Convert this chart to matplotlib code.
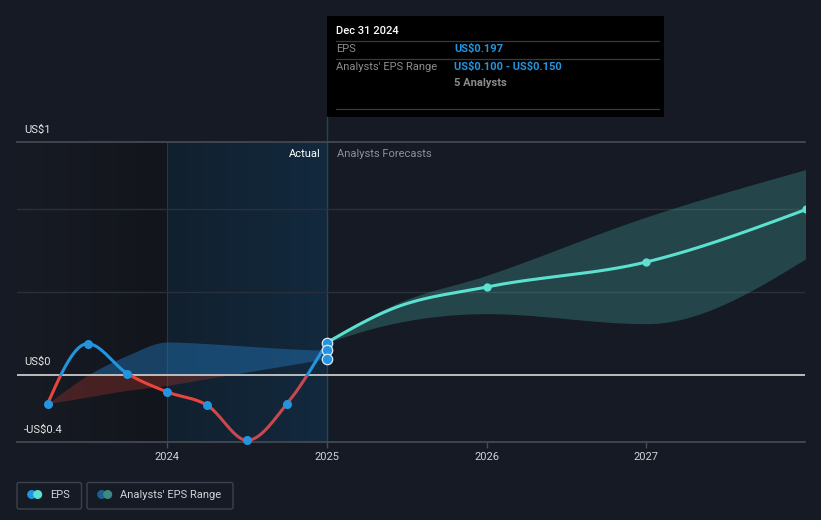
import numpy as np
import matplotlib
matplotlib.use('Agg')
import matplotlib.pyplot as plt
from matplotlib.patches import Rectangle, FancyBboxPatch, Circle
from matplotlib.colors import LinearSegmentedColormap

plt.rcParams['font.family'] = ['Roboto', 'DejaVu Sans']
plt.rcParams['text.parse_math'] = False

# ---- data ----
# decimal years, 2025.0 == Dec 31 2024
hist_x = [2023.25, 2023.5, 2023.75, 2024.0, 2024.25, 2024.5, 2024.75, 2025.0]
hist_eps = [-0.17, 0.19, 0.01, -0.10, -0.18, -0.39, -0.17, 0.197]
past_band_low = [-0.17, -0.13, -0.09, -0.06, -0.02, 0.02, 0.06, 0.10]
past_band_high = [-0.17, 0.0, 0.12, 0.20, 0.19, 0.175, 0.16, 0.15]

fc_x = [2025.0, 2025.41, 2026.0, 2027.0, 2028.0]
fc_eps = [0.197, 0.40, 0.53, 0.68, 0.995]
fc_low = [0.197, 0.31, 0.37, 0.31, 0.70]
fc_high = [0.197, 0.42, 0.60, 0.95, 1.235]
fc_marked = [False, False, True, True, True]

range_now = [0.197, 0.150, 0.100]  # EPS + analysts' range at Dec 31 2024

year_ticks = [2024, 2025, 2026, 2027]
y_labels = ['US$1', 'US$0', '-US$0.4']

BG = '#151a24'
BLUE = '#2394df'
TEAL = '#5ce0cf'
RED1 = '#e8453c'
RED2 = '#c9484d'


def monotone(x, y, n=400):
    # d3 curveMonotoneX style interpolation, just for drawing smooth lines
    x = np.asarray(x, float)
    y = np.asarray(y, float)
    h = np.diff(x)
    d = np.diff(y) / h
    m = np.zeros_like(y)
    for i in range(1, len(y) - 1):
        s0, s1 = d[i - 1], d[i]
        p = (s0 * h[i] + s1 * h[i - 1]) / (h[i - 1] + h[i])
        m[i] = (np.sign(s0) + np.sign(s1)) * min(abs(s0), abs(s1), 0.5 * abs(p))
    if len(y) > 2:
        m[0] = (3 * d[0] - m[1]) / 2
        m[-1] = (3 * d[-1] - m[-2]) / 2
    else:
        m[:] = d[0]
    xs = np.linspace(x[0], x[-1], n)
    idx = np.clip(np.searchsorted(x, xs, side='right') - 1, 0, len(x) - 2)
    t = (xs - x[idx]) / h[idx]
    h00 = 2 * t**3 - 3 * t**2 + 1
    h10 = t**3 - 2 * t**2 + t
    h01 = -2 * t**3 + 3 * t**2
    h11 = t**3 - t**2
    ys = h00 * y[idx] + h10 * h[idx] * m[idx] + h01 * y[idx + 1] + h11 * h[idx] * m[idx + 1]
    return xs, ys


def ftext(px, py, s, **kw):
    # text placed by pixel position, drawn on top of everything
    return fig.text(px / 821, 1 - py / 520, s, **kw)


fig = plt.figure(figsize=(8.21, 5.2), dpi=100, facecolor=BG)

# background axes in pixel coordinates (tooltip, legend)
bg = fig.add_axes([0, 0, 1, 1], zorder=0)
bg.set_xlim(0, 821)
bg.set_ylim(520, 0)
bg.axis('off')
bg.set_facecolor(BG)

# main plot axes: x 17..805 px, y 142..442 px
ax = fig.add_axes([17 / 821, 78 / 520, 788 / 821, 300 / 520], zorder=1)
ax.set_facecolor('none')
x0, x1 = 2023.058, 2027.994
y0, y1 = -0.4, 1.4
ax.set_xlim(x0, x1)
ax.set_ylim(y0, y1)
for s in ax.spines.values():
    s.set_visible(False)

# shaded regions
cm_left = LinearSegmentedColormap.from_list('l', ['#171b24', '#12151b'])
ax.imshow(np.linspace(0, 1, 100).reshape(1, -1), cmap=cm_left, aspect='auto',
          extent=[x0, 2024.0, y0, y1], zorder=0)
cm_hi = LinearSegmentedColormap.from_list('h', ['#11202e', '#13293e'])
ax.imshow(np.linspace(0, 1, 100).reshape(1, -1), cmap=cm_hi, aspect='auto',
          extent=[2024.0, 2025.0, y0, y1], zorder=0)
ax.axvline(2024.0, color='#1c3a56', lw=0.8, zorder=1)
ax.axvline(2025.0, color='#24435f', lw=1, zorder=1)

# grid
for g in [0.5, 1.0]:
    ax.axhline(g, color='#2a303a', lw=1, zorder=1)
ax.axhline(1.4, color='#474c55', lw=1.2, zorder=1, clip_on=False)
ax.axhline(-0.4, color='#474c55', lw=1.2, zorder=1, clip_on=False)
ax.axhline(0, color='#bdbdbd', lw=1.4, zorder=3)

pos_clip = Rectangle((x0, 0), x1 - x0, 5, transform=ax.transData)
neg_clip = Rectangle((x0, -5), x1 - x0, 5, transform=ax.transData)

# past analysts' band
bx, bl = monotone(hist_x, past_band_low)
_, bh = monotone(hist_x, past_band_high)
f1 = ax.fill_between(bx, bl, bh, color='#2277bb', alpha=0.45, lw=0, zorder=2)
f1.set_clip_path(pos_clip)
f2 = ax.fill_between(bx, bl, bh, color='#c0392b', alpha=0.3, lw=0, zorder=2)
f2.set_clip_path(neg_clip)

# forecast band
fx, fl = monotone(fc_x, fc_low)
_, fh = monotone(fc_x, fc_high)
ax.fill_between(fx, fl, fh, color=TEAL, alpha=0.22, lw=0, zorder=2)

# past EPS line (blue above zero, red below)
hx, hy = monotone(hist_x, hist_eps)
l1, = ax.plot(hx, hy, color=BLUE, lw=2.2, zorder=4, solid_capstyle='round')
l1.set_clip_path(pos_clip)
l2, = ax.plot(hx, hy, color=RED1, lw=2.2, zorder=4)
l2.set_clip_path(Rectangle((x0, -5), 2024.3 - x0, 5, transform=ax.transData))
l3, = ax.plot(hx, hy, color=RED2, lw=2.2, zorder=4)
l3.set_clip_path(Rectangle((2024.3, -5), x1 - 2024.3, 5, transform=ax.transData))
ax.plot(hist_x[:-1], hist_eps[:-1], 'o', color=BLUE, ms=6.5, mew=0, zorder=6,
        clip_on=False)

# forecast line
fxl, fyl = monotone(fc_x, fc_eps)
ax.plot(fxl, fyl, color=TEAL, lw=2.2, zorder=5)
mx = [x for x, k in zip(fc_x, fc_marked) if k]
my = [y for y, k in zip(fc_eps, fc_marked) if k]
ax.plot(mx, my, 'o', color=TEAL, ms=6, mew=0, zorder=6)

# EPS + range markers at Dec 31 2024
ax.plot([2025.0] * 3, range_now, 'o', color=BLUE, ms=7.5, mec='#dce9f5',
        mew=0.9, zorder=7, clip_on=False)

# ticks
ax.set_yticks([])
ax.set_xticks(year_ticks)
ax.set_xticklabels([str(y) for y in year_ticks])
ax.tick_params(axis='x', colors='#474c55', length=4, width=1, pad=3,
               labelcolor='#d0d3d8', labelsize=8)

# y labels
for lab, py in zip(y_labels, [130, 362, 430]):
    ftext(24, py, lab, color='#e6e6e6', fontsize=8, va='center', ha='left')

ax.text(2024.96, 1.33, 'Actual', color='#ffffff', fontsize=8, ha='right', va='center',
        zorder=8)
ax.text(2025.06, 1.33, 'Analysts Forecasts', color='#8b9099', fontsize=8, ha='left',
        va='center', zorder=8)

# tooltip
bg.plot([327, 327], [117, 142], color='#24435f', lw=1)
bg.add_patch(Rectangle((327, 16), 337, 101, facecolor='#000000', edgecolor='none'))
for sy in [41.3, 58.5, 109.3]:
    bg.plot([336, 659], [sy, sy], color='#3a3a3a', lw=0.9)
bg.text(336, 31, 'Dec 31 2024', color='#ffffff', fontsize=8, va='center',
        fontweight='medium')
bg.text(336, 49, 'EPS', color='#8c8c8c', fontsize=8, va='center')
bg.text(454, 49, 'US$0.197', color=BLUE, fontsize=8, va='center', fontweight='bold')
bg.text(336, 66.5, "Analysts' EPS Range", color='#8c8c8c', fontsize=8, va='center')
bg.text(454, 66.5, 'US$0.100 - US$0.150', color=BLUE, fontsize=8, va='center',
        fontweight='bold')
bg.text(454, 83.5, '5 Analysts', color='#8c8c8c', fontsize=8, va='center',
        fontweight='bold')

# legend
for (lx, lw_) in [(17, 64.5), (87, 146)]:
    bg.add_patch(FancyBboxPatch((lx, 482.5), lw_, 26.5,
                                boxstyle='round,pad=0,rounding_size=2',
                                facecolor='none', edgecolor='#3c424d', lw=1))
bg.add_patch(Circle((31.7, 494.5), 3.8, color=BLUE))
bg.add_patch(Circle((37.7, 494.5), 3.8, color=TEAL))
bg.text(50, 495, 'EPS', color='#d0d3d8', fontsize=8, va='center')
bg.add_patch(Circle((101.7, 494.5), 3.8, color='#1f5f8f'))
bg.add_patch(Circle((107.7, 494.5), 3.8, color='#3d8a80'))
bg.text(120.5, 495, "Analysts' EPS Range", color='#d0d3d8', fontsize=8, va='center')

fig.savefig('out.png', dpi=100, facecolor=BG)
